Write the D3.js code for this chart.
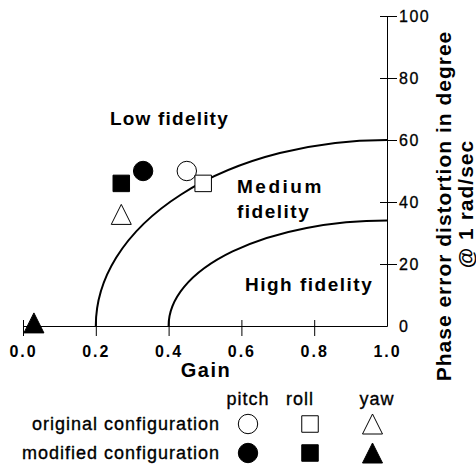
<!DOCTYPE html>
<html>
<head>
<meta charset="utf-8">
<script src="https://cdn.jsdelivr.net/npm/d3@7"></script>
<style>
  body { margin: 0; background: #fff; }
  svg { display: block; }
</style>
</head>
<body>
<svg id="chart"></svg>
<script>
// values
var axisNames = ["pitch", "roll", "yaw"];
var shapes = ["circle", "square", "triangle"];
var originalGain = [0.45, 0.495, 0.27];
var originalPhase = [50, 46, 36];
var modifiedGain = [0.33, 0.27, 0.03];
var modifiedPhase = [50, 46, 1];

var gainTicks = [0, 0.2, 0.4, 0.6, 0.8, 1.0];
var phaseTicks = [0, 20, 40, 60, 80, 100];

// fidelity boundaries: gain where the boundary meets 0, phase where it meets gain 1.0
var boundaryGain = [0.2, 0.4];
var boundaryPhase = [60, 34];

var regionNames = ["Low fidelity", "Medium", "fidelity", "High fidelity"];
var configNames = ["original configuration", "modified configuration"];

var width = 476, height = 464;
var font = "'Liberation Sans', Arial, sans-serif";

var svg = d3.select("#chart")
  .attr("width", width)
  .attr("height", height);

var x = d3.scaleLinear().domain([0, 1]).range([23, 387]);
var y = d3.scaleLinear().domain([0, 100]).range([326, 16]);

// boundaries (quarter ellipses centred on gain 1, phase 0)
svg.selectAll("path.boundary")
  .data(boundaryGain)
  .enter()
  .append("path")
  .attr("class", "boundary")
  .attr("fill", "none")
  .attr("stroke", "#000")
  .attr("stroke-width", 2)
  .attr("d", function(g, i) {
    var rx = x(1) - x(g), ry = y(0) - y(boundaryPhase[i]);
    return "M" + x(g) + "," + y(0) + "A" + rx + "," + ry + " 0 0 1 " + x(1) + "," + y(boundaryPhase[i]);
  });

// x axis
var xAxis = svg.append("g")
  .attr("transform", "translate(0," + y(0) + ")")
  .call(d3.axisBottom(x)
    .tickValues(gainTicks)
    .tickFormat(d3.format(".1f"))
    .tickSizeOuter(0));
xAxis.select(".domain").attr("stroke", "#000");
xAxis.selectAll(".tick line")
  .attr("y1", -6).attr("y2", 10).attr("stroke", "#000")
  .filter(function(d) { return d === 1; }).remove();
xAxis.selectAll(".tick text")
  .attr("y", 31).attr("dy", 0)
  .attr("font-family", font).attr("font-weight", "bold").attr("font-size", 16)
  .attr("letter-spacing", 2)
  .attr("fill", "#000");

// y axis on the right
var yAxis = svg.append("g")
  .attr("transform", "translate(" + x(1) + ",0)")
  .call(d3.axisRight(y)
    .tickValues(phaseTicks)
    .tickSizeOuter(0));
yAxis.select(".domain").attr("stroke", "#000");
yAxis.selectAll(".tick line")
  .attr("x1", -7).attr("x2", 10).attr("stroke", "#000")
  .filter(function(d) { return d === 0; }).remove();
yAxis.selectAll(".tick text")
  .attr("x", 12).attr("dy", "0.36em")
  .attr("font-family", font).attr("font-size", 16)
  .attr("letter-spacing", 1.5)
  .attr("fill", "#000")
  .attr("stroke", "#000").attr("stroke-width", 0.3);

// axis titles
svg.append("text")
  .attr("x", 206).attr("y", 377)
  .attr("text-anchor", "middle")
  .attr("font-family", font).attr("font-weight", "bold").attr("font-size", 20)
  .attr("letter-spacing", 1.5)
  .text("Gain");

var yTitle = svg.append("g")
  .attr("font-family", font).attr("font-weight", "bold").attr("font-size", 21)
  .attr("letter-spacing", 1)
  .attr("text-anchor", "middle");
yTitle.append("text")
  .attr("transform", "translate(451,206) rotate(-90)")
  .text("Phase error distortion in degree");
yTitle.append("text")
  .attr("transform", "translate(473,204) rotate(-90)")
  .text("@ 1 rad/sec");

// region labels
var regionPos = [[110, 125], [237, 193], [237, 218], [245, 291]];
var regionSpacing = [1.2, 2.5, 1.5, 1.5];
svg.append("g")
  .attr("font-family", font).attr("font-weight", "bold").attr("font-size", 19)
  .selectAll("text")
  .data(regionNames)
  .enter()
  .append("text")
  .attr("x", function(d, i) { return regionPos[i][0]; })
  .attr("y", function(d, i) { return regionPos[i][1]; })
  .attr("letter-spacing", function(d, i) { return regionSpacing[i]; })
  .text(function(d) { return d; });

// marker shapes centred on 0,0
function marker(shape) {
  if (shape === "circle") return d3.symbol(d3.symbolCircle, Math.PI * 9.7 * 9.7)();
  if (shape === "square") return d3.symbol(d3.symbolSquare, 16.5 * 16.5)();
  return "M0,-10L10,10L-10,10Z";
}

var points = [];
axisNames.forEach(function(name, i) {
  points.push({ axis: name, shape: shapes[i], open: true, gain: originalGain[i], phase: originalPhase[i] });
  points.push({ axis: name, shape: shapes[i], open: false, gain: modifiedGain[i], phase: modifiedPhase[i] });
});

svg.selectAll("path.point")
  .data(points)
  .enter()
  .append("path")
  .attr("class", "point")
  .attr("d", function(d) { return marker(d.shape); })
  .attr("transform", function(d) { return "translate(" + x(d.gain) + "," + y(d.phase) + ")"; })
  .attr("fill", function(d) { return d.open ? "#fff" : "#000"; })
  .attr("stroke", "#000")
  .attr("stroke-width", 1);

// legend
var legend = svg.append("g")
  .attr("font-family", font).attr("font-size", 18)
  .attr("letter-spacing", 1);
var colX = [248, 310, 372.5];
var headX = [248, 300, 377];
var rowY = [424, 453];

legend.selectAll("text.head")
  .data(axisNames)
  .enter()
  .append("text")
  .attr("class", "head")
  .attr("x", function(d, i) { return headX[i]; })
  .attr("y", 405)
  .attr("text-anchor", "middle")
  .attr("stroke", "#000").attr("stroke-width", 0.35)
  .text(function(d) { return d; });

legend.selectAll("text.row")
  .data(configNames)
  .enter()
  .append("text")
  .attr("class", "row")
  .attr("x", 220)
  .attr("y", function(d, i) { return rowY[i] + 6; })
  .attr("text-anchor", "end")
  .attr("stroke", "#000").attr("stroke-width", 0.35)
  .text(function(d) { return d; });

configNames.forEach(function(c, r) {
  legend.selectAll("path.key" + r)
    .data(shapes)
    .enter()
    .append("path")
    .attr("class", "key" + r)
    .attr("d", function(s) { return marker(s); })
    .attr("transform", function(s, i) { return "translate(" + colX[i] + "," + rowY[r] + ")"; })
    .attr("fill", r === 0 ? "#fff" : "#000")
    .attr("stroke", "#000");
});
</script>
</body>
</html>
